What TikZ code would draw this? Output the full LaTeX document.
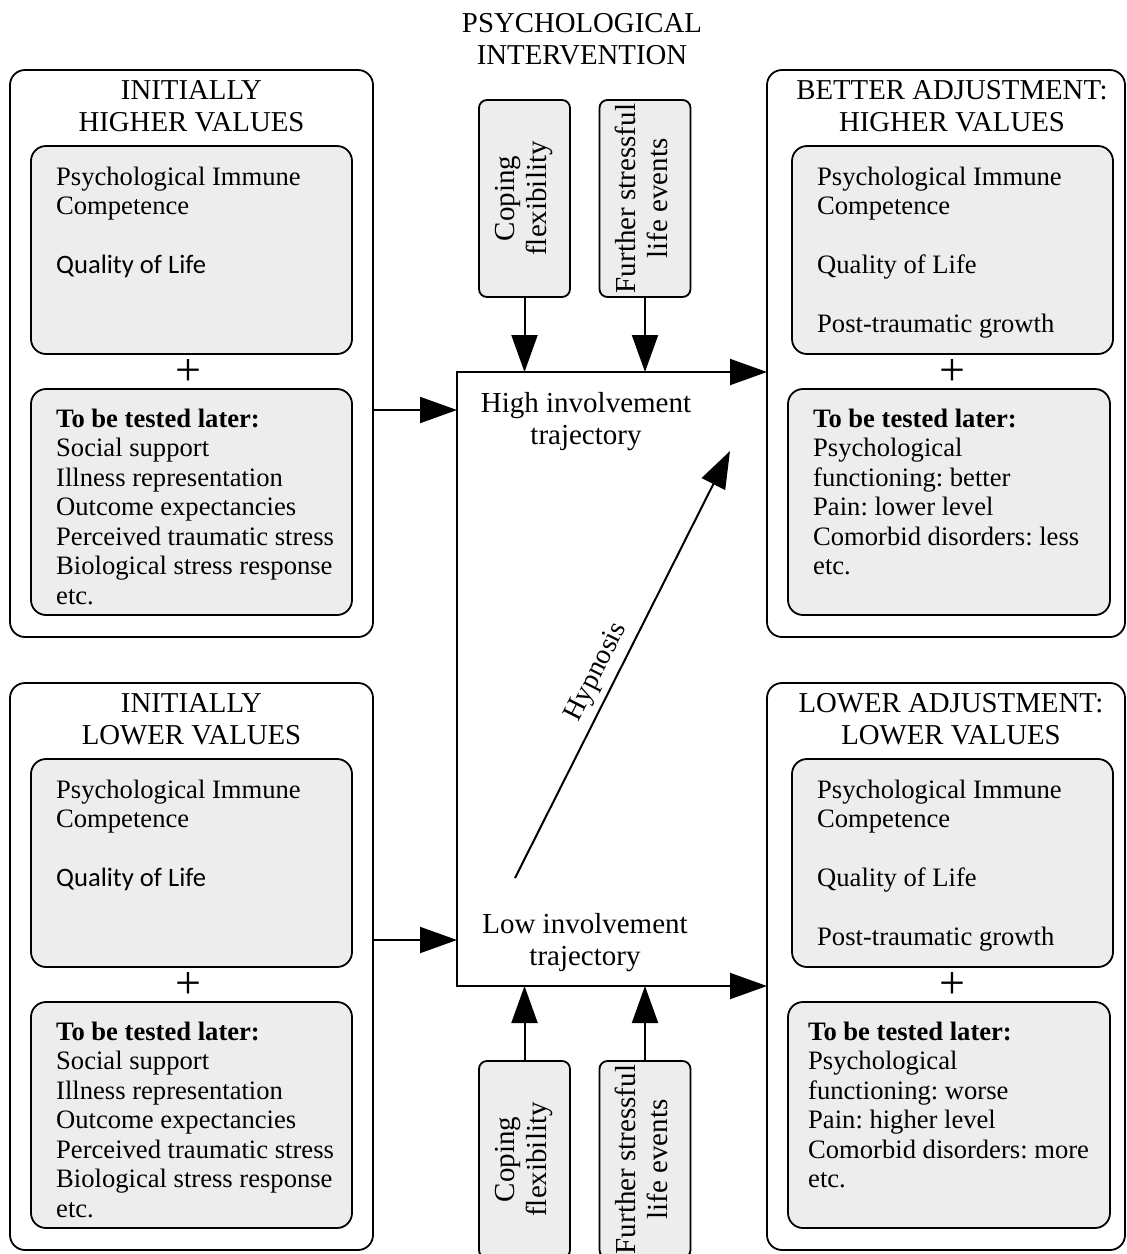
\documentclass[tikz,border=0pt]{standalone}
\usepackage{fontspec}
\setmainfont{Liberation Serif}
\newfontfamily\calibri{Carlito}
\usepackage{graphicx}
\usetikzlibrary{arrows.meta}
\definecolor{boxgray}{HTML}{EDEDED}
\frenchspacing
\newcommand\bodyf{\fontsize{26.6}{29.5}\selectfont}
\newcommand\titlef{\fontsize{28.8}{32.8}\selectfont}
\newcommand\midf{\fontsize{29}{32}\selectfont}
\newcommand\sidef{\fontsize{29}{32}\selectfont}
\newcommand\hypf{\fontsize{28}{30}\selectfont}
\newcommand\plusf{\fontsize{46}{46}\selectfont}
\newcommand\mlc[1]{\parbox[t]{420pt}{\centering #1}}
\newcommand\mll[1]{\parbox[t]{320pt}{\raggedright #1}}
\newcommand\rottext[1]{\rotatebox{90}{\begin{tabular}{@{}c@{}}#1\end{tabular}}}
\tikzset{
  obox/.style={draw, line width=1.8pt, rounded corners=15pt, inner sep=0pt, outer sep=0pt},
  ibox/.style={draw, fill=boxgray, line width=1.8pt, rounded corners=15pt, inner sep=0pt, outer sep=0pt},
  sbox/.style={draw, fill=boxgray, line width=1.8pt, rounded corners=8pt, minimum width=91pt, minimum height=197pt, inner sep=0pt, outer sep=0pt, font=\sidef},
  ttl/.style={anchor=base, font=\titlef, inner sep=0pt},
  body/.style={anchor=base west, font=\bodyf, inner sep=0pt},
  mid/.style={anchor=base, font=\midf, inner sep=0pt},
  plus/.style={font=\plusf, inner sep=0pt},
  arr/.style={line width=2pt, -{Triangle[length=37pt,width=26pt]}},
  arrtwo/.style={line width=2pt, {Triangle[length=37pt,width=26pt]}-{Triangle[length=37pt,width=26pt]}}
}
\begin{document}
\begin{tikzpicture}[x=1pt,y=-1pt]
\useasboundingbox (0,0) rectangle (1127,1254);

% outer boxes
\node[obox, minimum width=363pt, minimum height=567pt] (LT) at (191.5,353.5) {};
\node[obox, minimum width=363pt, minimum height=567pt] (LB) at (191.5,966.5) {};
\node[obox, minimum width=358pt, minimum height=567pt] (RT) at (946,353.5) {};
\node[obox, minimum width=358pt, minimum height=567pt] (RB) at (946,966.5) {};

% inner boxes
\node[ibox, minimum width=321pt, minimum height=208pt] (LT1) at (191.5,250) {};
\node[ibox, minimum width=321pt, minimum height=226pt] (LT2) at (191.5,502) {};
\node[ibox, minimum width=321pt, minimum height=208pt] (LB1) at (191.5,863) {};
\node[ibox, minimum width=321pt, minimum height=226pt] (LB2) at (191.5,1115) {};
\node[ibox, minimum width=321pt, minimum height=208pt] (RT1) at (952.5,250) {};
\node[ibox, minimum width=322pt, minimum height=226pt] (RT2) at (949,502) {};
\node[ibox, minimum width=321pt, minimum height=208pt] (RB1) at (952.5,863) {};
\node[ibox, minimum width=322pt, minimum height=226pt] (RB2) at (949,1115) {};

% titles
\node[ttl] (PI) at (582,32) {\mlc{PSYCHOLOGICAL\\INTERVENTION}};
\node[ttl] (LTt) at (191.5,99) {\mlc{INITIALLY\\HIGHER VALUES}};
\node[ttl] (LBt) at (191.5,712) {\mlc{INITIALLY\\LOWER VALUES}};
\node[ttl] (RTt) at (952,99) {\mlc{BETTER ADJUSTMENT:\\HIGHER VALUES}};
\node[ttl] (RBt) at (951,712) {\mlc{LOWER ADJUSTMENT:\\LOWER VALUES}};

% box texts
\node[body] (LT1x) at (56,185) {\mll{Psychological Immune\\Competence\\[29.5pt]{\calibri Quality of Life}}};
\node[body] (LT2x) at (56,427) {\mll{\textbf{To be tested later:}\\Social support\\Illness representation\\Outcome expectancies\\Perceived traumatic stress\\Biological stress response\\etc.}};
\node[body] (LB1x) at (56,798) {\mll{Psychological Immune\\Competence\\[29.5pt]{\calibri Quality of Life}}};
\node[body] (LB2x) at (56,1040) {\mll{\textbf{To be tested later:}\\Social support\\Illness representation\\Outcome expectancies\\Perceived traumatic stress\\Biological stress response\\etc.}};
\node[body] (RT1x) at (817,185) {\mll{Psychological Immune\\Competence\\[29.5pt]Quality of Life\\[29.5pt]Post-traumatic growth}};
\node[body] (RT2x) at (813,427) {\mll{\textbf{To be tested later:}\\Psychological\\functioning: better\\Pain: lower level\\Comorbid disorders: less\\etc.}};
\node[body] (RB1x) at (817,798) {\mll{Psychological Immune\\Competence\\[29.5pt]Quality of Life\\[29.5pt]Post-traumatic growth}};
\node[body] (RB2x) at (808,1040) {\mll{\textbf{To be tested later:}\\Psychological\\functioning: worse\\Pain: higher level\\Comorbid disorders: more\\etc.}};

% plus signs
\node[plus] (p1) at (188,372) {+};
\node[plus] (p2) at (952,372) {+};
\node[plus] (p3) at (188,985) {+};
\node[plus] (p4) at (952,985) {+};

% side boxes
\node[sbox] (CF1) at (524.5,198.5) {\rottext{Coping\\flexibility}};
\node[sbox] (FS1) at (645,198.5) {\rottext{Further stressful\\life events}};
\node[sbox] (CF2) at (524.5,1159.5) {\rottext{Coping\\flexibility}};
\node[sbox] (FS2) at (645,1159.5) {\rottext{Further stressful\\life events}};

% trajectory labels
\node[mid] (HI) at (586,412) {\mlc{High involvement\\trajectory}};
\node[mid] (LO) at (585,933) {\mlc{Low involvement\\trajectory}};

% frame coordinates
\coordinate (cT) at (457,372);
\coordinate (cB) at (457,986);
\coordinate (hiIn) at (457,410);
\coordinate (loIn) at (457,940);
\coordinate (hy1) at (515,878);
\coordinate (hy2) at (730,451);

% connectors
\draw[arr] (hy1) -- (hy2);
\node[inner sep=0pt, font=\hypf] (HY) at (597,672) {\rotatebox{63.3}{Hypnosis}};
\draw[arrtwo] (RB.west |- cB) -- (cB) -- (cT) -- (RT.west |- cT);
\draw[arr] (LT.east |- hiIn) -- (hiIn);
\draw[arr] (LB.east |- loIn) -- (loIn);
\draw[arr] (CF1.south) -- (CF1.south |- cT);
\draw[arr] (FS1.south) -- (FS1.south |- cT);
\draw[arr] (CF2.north) -- (CF2.north |- cB);
\draw[arr] (FS2.north) -- (FS2.north |- cB);
\end{tikzpicture}
\end{document}
